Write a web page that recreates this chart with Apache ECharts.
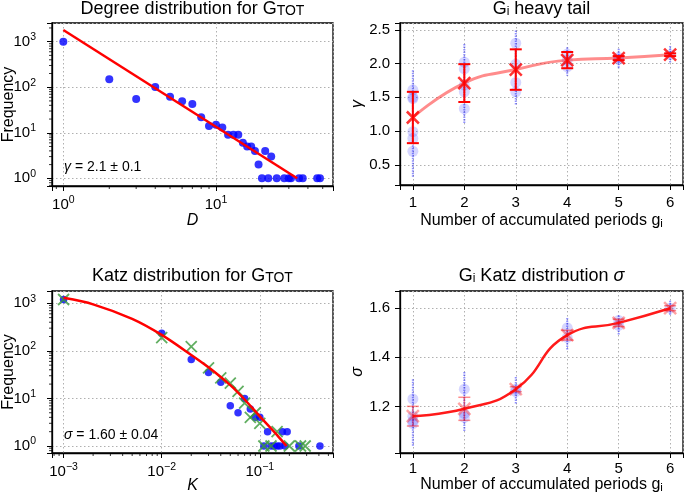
<!DOCTYPE html>
<html><head><meta charset="utf-8">
<script src="https://cdn.jsdelivr.net/npm/echarts@6/dist/echarts.min.js"></script>
<style>html,body{margin:0;padding:0;background:#fff}#c{width:685px;height:495px}</style>
</head><body><div id="c"></div>
<script>
// ---------------- data ----------------
// Degree distribution (top-left)
const degreeD    = [1,2,3,4,5,6,7,8,9,10,11,12,13,14,15,16,17,18,19,20,21,22,23,25,28,30,31,35,37,46,48];
const degreeFreq = [1000,150,55,101,62,49,43,22,14,15,13,9,9,9,6,5,5,4,2,1,4,1,3,1,1,1,1,1,1,1,1];
const degreeFitD    = [1, 34];
const degreeFitFreq = [1800, 1];

// Katz distribution (bottom-left)
const katzK    = [0.001,0.01,0.02,0.03,0.04,0.05,0.06,0.07,0.08,0.09,0.10,0.12,0.17,0.19,0.11,0.13,0.14,0.15,0.16,0.18,0.25,0.41];
const katzFreq = [1200,234,66,35,22,7,5,10,6,4,4,2,2,2,1,1,1,1,1,1,1,1];
const katzModelK    = [0.001,0.01,0.02,0.03,0.04,0.05,0.06,0.07,0.08,0.09,0.10,0.15,0.11,0.13,0.20,0.26,0.29];
const katzModelFreq = [1200,190,123,44,27,21,14,8,4,5,3,2,1,1,1,1,1];
const katzFitK    = [0.001,0.002,0.005,0.01,0.02,0.03,0.05,0.07,0.1,0.15,0.187];
const katzFitFreq = [1300,950,470,216,82,45,19,9.5,4.2,1.7,1.0];

// Per-period heavy tail gamma (top-right)
const periods = [1,2,3,4,5,6];
const gammaMean = [1.20,1.71,1.91,2.05,2.08,2.13];
const gammaErr  = [0.38,0.28,0.30,0.12,0.03,0.02];
const gammaSamples = [
  [1.61,1.50,1.48,0.99,0.89,0.70],
  [2.02,1.92,1.68,1.58,1.33],
  [2.30,1.99,1.72,1.58],
  [2.14,2.05,1.95],
  [2.09,2.06],
  [2.13]
];
const gammaSpreadLow  = [0.32,1.11,1.38,1.82,1.92,2.00];
const gammaSpreadHigh = [1.90,2.29,2.49,2.24,2.22,2.26];

// Per-period Katz sigma (bottom-right)
const sigmaMean = [1.16,1.19,1.27,1.49,1.54,1.60];
const sigmaErr  = [0.04,0.047,0.01,0.02,0.015,0.01];
const sigmaSamples = [
  [1.23,1.16,1.14,1.13],
  [1.27,1.17,1.155],
  [1.27,1.26],
  [1.52,1.48],
  [1.55,1.53],
  [1.60]
];
const sigmaSpreadLow  = [1.04,1.10,1.21,1.43,1.49,1.57];
const sigmaSpreadHigh = [1.31,1.34,1.32,1.56,1.57,1.63];

// tick labels
const periodTicks = [1,2,3,4,5,6];
const gammaTicks  = [0.5,1.0,1.5,2.0,2.5];
const sigmaTicks  = [1.2,1.4,1.6];
const degreeXExps = [0,1];
const degreeYExps = [0,1,2,3];
const katzXExps   = [-3,-2,-1];
const katzYExps   = [0,1,2,3];

// ---------------- chart ----------------
const FONT = '"Liberation Sans", Arial, Helvetica, sans-serif';
const chart = echarts.init(document.getElementById('c'), null, {renderer: 'canvas'});

const zip = (a, b) => a.map((v, i) => [v, b[i]]);

function logFormatter(exps) {
  return function (v) {
    const l = Math.log10(v), e = Math.round(l);
    if (Math.abs(l - e) > 1e-6 || exps.indexOf(e) < 0) return '';
    return '10{sup|' + (e < 0 ? '\u2212' + (-e) : e) + '}';
  };
}
function linFormatter(ticks, digits) {
  return function (v) {
    for (const t of ticks) if (Math.abs(t - v) < 1e-9) return t.toFixed(digits);
    return '';
  };
}
const supRich = {sup: {fontSize: 10.5, lineHeight: 10, verticalAlign: 'top', fontFamily: FONT, color: '#000'}};
const subRich = {
  sub: {fontSize: 11.5, lineHeight: 10, verticalAlign: 'bottom', fontFamily: FONT, color: '#000'},
  it: {fontStyle: 'italic', fontSize: 16, fontFamily: FONT, color: '#000'}
};

function axis(o) {
  return Object.assign({
    nameLocation: 'middle',
    nameMoveOverlap: false,
    axisLine: {show: true, onZero: false, lineStyle: {color: '#000', width: 1.3}},
    axisTick: {show: true, inside: false, length: 5, lineStyle: {color: '#000', width: 1}},
    splitLine: {show: true, lineStyle: {color: '#b0b0b0', width: 1, type: [1.5, 2.5]}},
    nameTextStyle: {color: '#000', fontFamily: FONT, fontSize: 16, lineHeight: 18, rich: subRich},
  }, o);
}
function label(o) {
  return Object.assign({color: '#000', fontFamily: FONT, fontSize: 15}, o);
}

function minorTicks(values, dir, xi, yi, ref) {
  return {
    type: 'custom', xAxisIndex: xi, yAxisIndex: yi, silent: true, clip: false, z: 5,
    data: values.map(v => dir === 'x' ? [v, ref] : [ref, v]),
    renderItem: function (params, api) {
      const p = api.coord([api.value(0), api.value(1)]);
      const cs = params.coordSys;
      if (dir === 'x') {
        const yb = cs.y + cs.height;
        return {type: 'line', shape: {x1: p[0], y1: yb, x2: p[0], y2: yb + 3}, style: {stroke: '#000', lineWidth: 0.8}};
      }
      return {type: 'line', shape: {x1: cs.x - 3, y1: p[1], x2: cs.x, y2: p[1]}, style: {stroke: '#000', lineWidth: 0.8}};
    }
  };
}
function decadeMinors(lo, hi) {
  const out = [];
  for (let e = -5; e <= 5; e++) for (let m = 2; m <= 9; m++) {
    const v = m * Math.pow(10, e);
    if (v > lo && v < hi) out.push(v);
  }
  return out;
}

function errorBars(xs, means, errs, color, lw, cap, xi, yi) {
  return {
    type: 'custom', xAxisIndex: xi, yAxisIndex: yi, silent: true, z: 4,
    data: xs.map((x, i) => [x, means[i], errs[i]]),
    renderItem: function (params, api) {
      const x = api.value(0), m = api.value(1), e = api.value(2);
      const t = api.coord([x, m + e]), b = api.coord([x, m - e]);
      const st = {stroke: color, lineWidth: lw};
      return {type: 'group', children: [
        {type: 'line', shape: {x1: t[0], y1: t[1], x2: b[0], y2: b[1]}, style: st},
        {type: 'line', shape: {x1: t[0] - cap / 2, y1: t[1], x2: t[0] + cap / 2, y2: t[1]}, style: st},
        {type: 'line', shape: {x1: b[0] - cap / 2, y1: b[1], x2: b[0] + cap / 2, y2: b[1]}, style: st}
      ]};
    }
  };
}
function spreads(xs, lows, highs, xi, yi) {
  return {
    type: 'custom', xAxisIndex: xi, yAxisIndex: yi, silent: true, z: 1,
    data: xs.map((x, i) => [x, lows[i], highs[i]]),
    renderItem: function (params, api) {
      const x = api.value(0);
      const t = api.coord([x, api.value(2)]), b = api.coord([x, api.value(1)]);
      return {type: 'line', shape: {x1: t[0], y1: t[1], x2: b[0], y2: b[1]},
        style: {stroke: 'rgba(30,30,255,0.5)', lineWidth: 2, lineDash: [1.5, 1]}};
    }
  };
}
const XPATH = 'path://M0,0L10,10M10,0L0,10';

const grids = [
  {left: 52, top: 23, width: 281, height: 163},
  {left: 400, top: 23, width: 283, height: 162},
  {left: 52, top: 291, width: 281, height: 162},
  {left: 400, top: 291, width: 283, height: 162}
].map(g => Object.assign(g, {show: true, borderColor: '#000', borderWidth: 1.3, backgroundColor: 'transparent',
  containLabel: false, outerBoundsMode: 'none'}));

const TLx = [0.843, 58.4], TLy = [0.678, 2570];
const BLx = [0.000762, 0.557], BLy = [0.713, 1811];

const xAxes = [
  axis({type: 'log', gridIndex: 0, min: TLx[0], max: TLx[1], name: '{it|D}', nameGap: 26,
    axisLabel: label({lineHeight: 20, margin: 9, formatter: logFormatter(degreeXExps), rich: supRich})}),
  axis({type: 'value', gridIndex: 1, min: 0.75, max: 6.25, minInterval: 1, maxInterval: 1, name: 'Number of accumulated periods g{sub|i}', nameGap: 27,
    axisLabel: label({lineHeight: 16, margin: 10, formatter: linFormatter(periodTicks, 0)})}),
  axis({type: 'log', gridIndex: 2, min: BLx[0], max: BLx[1], name: '{it|K}', nameGap: 24,
    axisLabel: label({lineHeight: 20, margin: 9, formatter: logFormatter(katzXExps), rich: supRich})}),
  axis({type: 'value', gridIndex: 3, min: 0.75, max: 6.25, minInterval: 1, maxInterval: 1, name: 'Number of accumulated periods g{sub|i}', nameGap: 23,
    axisLabel: label({lineHeight: 16, margin: 8, formatter: linFormatter(periodTicks, 0)})})
];
const yAxes = [
  axis({type: 'log', gridIndex: 0, min: TLy[0], max: TLy[1], name: 'Frequency', nameGap: 34,
    axisLabel: label({lineHeight: 20, margin: 16, formatter: logFormatter(degreeYExps), rich: supRich})}),
  axis({type: 'value', gridIndex: 1, min: 0.2, max: 2.6, minInterval: 0.5, maxInterval: 0.5, name: '{it|γ}', nameGap: 33,
    axisLabel: label({lineHeight: 16, margin: 10, formatter: linFormatter(gammaTicks, 1)})}),
  axis({type: 'log', gridIndex: 2, min: BLy[0], max: BLy[1], name: 'Frequency', nameGap: 34,
    axisLabel: label({lineHeight: 20, margin: 16, formatter: logFormatter(katzYExps), rich: supRich})}),
  axis({type: 'value', gridIndex: 3, min: 1.01, max: 1.67, minInterval: 0.2, maxInterval: 0.2, name: '{it|σ}', nameGap: 33,
    axisLabel: label({lineHeight: 16, margin: 10, formatter: linFormatter(sigmaTicks, 1)})})
];

const flat = (samples) => periods.flatMap((p, i) => samples[i].map(v => [p, v]));

const series = [
  // top-left
  {type: 'scatter', xAxisIndex: 0, yAxisIndex: 0, data: zip(degreeD, degreeFreq), symbolSize: 8, itemStyle: {color: '#0000ff'}, z: 2},
  {type: 'line', xAxisIndex: 0, yAxisIndex: 0, data: zip(degreeFitD, degreeFitFreq), symbol: 'none', lineStyle: {color: '#ff0000', width: 2.5}, z: 3},
  minorTicks(decadeMinors(TLx[0], TLx[1]), 'x', 0, 0, 1),
  minorTicks(decadeMinors(TLy[0], TLy[1]), 'y', 0, 0, 1),
  // top-right
  spreads(periods, gammaSpreadLow, gammaSpreadHigh, 1, 1),
  {type: 'scatter', xAxisIndex: 1, yAxisIndex: 1, data: flat(gammaSamples), symbolSize: 11, itemStyle: {color: 'rgba(0,0,255,0.2)'}, z: 2},
  {type: 'line', xAxisIndex: 1, yAxisIndex: 1, data: zip(periods, gammaMean), smooth: 0.5, symbol: 'none', lineStyle: {color: 'rgba(255,0,0,0.45)', width: 3}, z: 3},
  errorBars(periods, gammaMean, gammaErr, '#ff0000', 2, 12, 1, 1),
  {type: 'scatter', xAxisIndex: 1, yAxisIndex: 1, data: zip(periods, gammaMean), symbol: XPATH, symbolSize: 12,
    itemStyle: {color: 'rgba(0,0,0,0)', borderColor: '#ff0000', borderWidth: 2.5}, z: 5},
  // bottom-left
  {type: 'scatter', xAxisIndex: 2, yAxisIndex: 2, data: zip(katzK, katzFreq), symbolSize: 7.5, itemStyle: {color: '#0000ff'}, z: 2},
  {type: 'scatter', xAxisIndex: 2, yAxisIndex: 2, data: zip(katzModelK, katzModelFreq), symbol: XPATH, symbolSize: 11,
    itemStyle: {color: 'rgba(0,0,0,0)', borderColor: '#3a9a3a', borderWidth: 1.8}, z: 3},
  {type: 'line', xAxisIndex: 2, yAxisIndex: 2, data: zip(katzFitK, katzFitFreq), smooth: 0.3, symbol: 'none', lineStyle: {color: '#ff0000', width: 2.5}, z: 4},
  minorTicks(decadeMinors(BLx[0], BLx[1]), 'x', 2, 2, 1),
  minorTicks(decadeMinors(BLy[0], BLy[1]), 'y', 2, 2, 0.01),
  // bottom-right
  spreads(periods, sigmaSpreadLow, sigmaSpreadHigh, 3, 3),
  {type: 'scatter', xAxisIndex: 3, yAxisIndex: 3, data: flat(sigmaSamples), symbolSize: 11, itemStyle: {color: 'rgba(0,0,255,0.2)'}, z: 2},
  {type: 'line', xAxisIndex: 3, yAxisIndex: 3, data: zip(periods, sigmaMean), smooth: 0.5, symbol: 'none', lineStyle: {color: '#ff1a1a', width: 2.5}, z: 3},
  errorBars(periods, sigmaMean, sigmaErr, 'rgba(255,0,0,0.45)', 1.5, 12, 3, 3),
  {type: 'scatter', xAxisIndex: 3, yAxisIndex: 3, data: zip(periods, sigmaMean), symbol: XPATH, symbolSize: 12,
    itemStyle: {color: 'rgba(0,0,0,0)', borderColor: 'rgba(255,0,0,0.45)', borderWidth: 2.5}, z: 5}
];

const titleRich = {
  sub: {fontSize: 14, lineHeight: 12, verticalAlign: 'bottom', fontFamily: FONT, fill: '#000'},
  subi: {fontSize: 12, lineHeight: 12, verticalAlign: 'bottom', fontFamily: FONT, fill: '#000'},
  it: {fontSize: 18, fontStyle: 'italic', fontFamily: FONT, fill: '#000'}
};
function title(text, x, y) {
  return {type: 'text', x: x, y: y, silent: true, style: {text: text, fontSize: 18, lineHeight: 18, fontFamily: FONT, fill: '#000', align: 'center', verticalAlign: 'top', rich: titleRich}};
}
const noteRich = {g: {fontSize: 14, fontStyle: 'italic', fontFamily: FONT, fill: '#000'}};
function note(text, x, y) {
  return {type: 'text', x: x, y: y, silent: true, style: {text: text, fontSize: 14, fontFamily: FONT, fill: '#000', align: 'left', verticalAlign: 'middle', rich: noteRich}};
}

chart.setOption({
  animation: false,
  backgroundColor: '#fff',
  grid: grids,
  xAxis: xAxes,
  yAxis: yAxes,
  series: series,
  graphic: [
    title('Degree distribution for G{sub|TOT}', 192.5, 0),
    title('G{subi|i} heavy tail', 541.5, 0),
    title('Katz distribution for G{sub|TOT}', 192.5, 267),
    title('G{subi|i} Katz distribution {it|σ}', 541.5, 267),
    note('{g|γ} = 2.1 \u00b1 0.1', 64, 167.5),
    note('{g|σ} = 1.60 \u00b1 0.04', 64, 435)
  ]
});
</script>
</body></html>
